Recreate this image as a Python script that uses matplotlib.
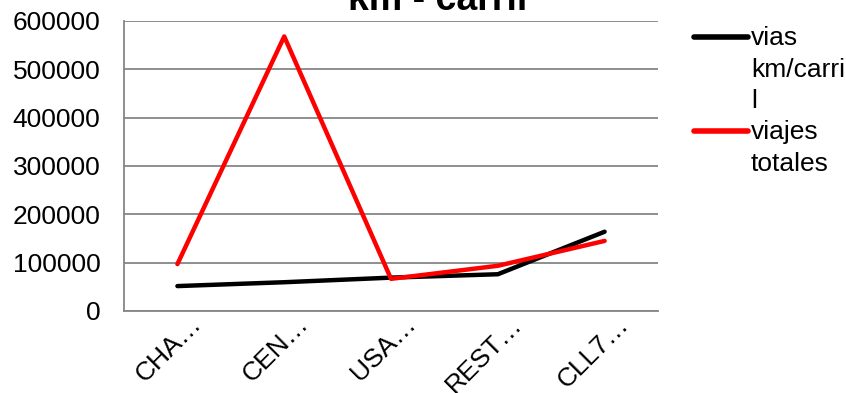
import matplotlib
matplotlib.use("Agg")
import matplotlib.pyplot as plt
from matplotlib.lines import Line2D
from matplotlib.transforms import ScaledTranslation

plt.rcParams['font.family'] = ['Liberation Sans', 'DejaVu Sans']

# Data
categories = ["CHA…", "CEN…", "USA…", "REST…", "CLL7…"]
vias_km_carril = [51500, 59500, 69000, 76000, 164000]
viajes_totales = [97000, 568000, 66500, 93500, 145000]
series_names = ["vias\nkm/carri\nl", "viajes\ntotales"]
series_colors = ["#000000", "#ff0000"]
yticks = [0, 100000, 200000, 300000, 400000, 500000, 600000]

fig = plt.figure(figsize=(8.46, 3.93), dpi=100)
ax = fig.add_axes([0.1466, 0.2087, 0.6312, 0.7379])

x = range(len(categories))
ax.plot(x, vias_km_carril, color=series_colors[0], lw=3.2, solid_capstyle='round', zorder=3)
ax.plot(x, viajes_totales, color=series_colors[1], lw=3.2, solid_capstyle='round', zorder=4)

ax.set_xlim(-0.5, len(categories) - 0.5)
ax.set_ylim(0, 600000)
ax.set_yticks(yticks)
ax.set_yticklabels([str(v) for v in yticks], fontsize=19)
ax.set_xticks(list(x))
ax.set_xticklabels(categories, fontsize=19, rotation=45, ha='right', va='top',
                   rotation_mode='anchor')
ax.tick_params(axis='y', length=0, pad=17)
ax.tick_params(axis='x', length=0, pad=0)

# nudge the rotated category labels so they end to the right of their ticks
shift = ScaledTranslation(12 / 100, -1 / 100, fig.dpi_scale_trans)
for lbl in ax.get_xticklabels():
    lbl.set_transform(lbl.get_transform() + shift)

ax.grid(axis='y', color='#868686', lw=1.3)
ax.set_axisbelow(True)
for s in ['top', 'right']:
    ax.spines[s].set_visible(False)
for s in ['left', 'bottom']:
    ax.spines[s].set_color('#868686')
    ax.spines[s].set_linewidth(1.3)

# Title sits partly above the top edge of the figure
fig.text(438 / 846, 1 - 10 / 393, "km - carril", fontsize=27, fontweight='bold',
         ha='center', va='baseline')

# Legend drawn in figure coordinates
W, H = 846, 393
handle_y = [37, 131]
for name, color, hy in zip(series_names, series_colors, handle_y):
    fig.add_artist(Line2D([694 / W, 748 / W], [1 - hy / H, 1 - hy / H],
                          color=color, lw=4, solid_capstyle='round'))
    fig.text(751 / W, 1 - (hy - 11) / H, name, fontsize=19, va='top', ha='left',
             linespacing=1.4)

fig.savefig("out.png", dpi=100)
